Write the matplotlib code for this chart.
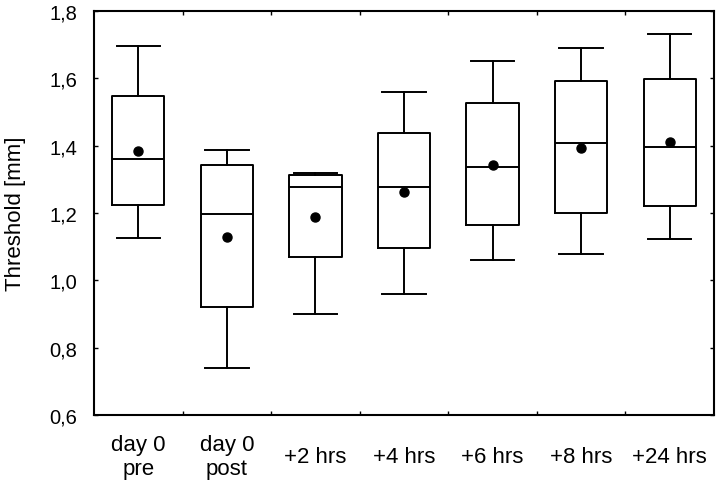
import matplotlib
matplotlib.use("Agg")
import matplotlib.pyplot as plt
from matplotlib.ticker import FixedLocator, FuncFormatter

plt.rcParams['font.family'] = ['Liberation Sans', 'DejaVu Sans']

categories = ["day 0\npre", "day 0\npost", "+2 hrs", "+4 hrs", "+6 hrs", "+8 hrs", "+24 hrs"]
whisker_low = [1.127, 0.739, 0.899, 0.959, 1.060, 1.079, 1.122]
q1 = [1.224, 0.921, 1.070, 1.095, 1.165, 1.201, 1.222]
median = [1.359, 1.198, 1.277, 1.278, 1.337, 1.408, 1.396]
q3 = [1.548, 1.343, 1.313, 1.438, 1.528, 1.593, 1.597]
whisker_high = [1.697, 1.386, 1.319, 1.559, 1.651, 1.691, 1.733]
mean = [1.385, 1.128, 1.188, 1.263, 1.344, 1.394, 1.410]
yticks = [0.6, 0.8, 1.0, 1.2, 1.4, 1.6, 1.8]

fig = plt.figure(figsize=(7.2, 4.85), dpi=100)
ax = fig.add_axes([0.1306, 0.1423, 0.8611, 0.833])

stats = []
for i in range(len(categories)):
    stats.append(dict(med=median[i], q1=q1[i], q3=q3[i],
                      whislo=whisker_low[i], whishi=whisker_high[i],
                      mean=mean[i], fliers=[], label=categories[i]))

positions = list(range(1, len(categories) + 1))
lw = 1.4
ax.bxp(stats, positions=positions, widths=0.59, capwidths=0.49,
       showmeans=False, showfliers=False, patch_artist=False,
       boxprops=dict(color='black', linewidth=lw),
       medianprops=dict(color='black', linewidth=lw),
       whiskerprops=dict(color='black', linewidth=lw),
       capprops=dict(color='black', linewidth=lw))
ax.plot(positions, mean, 'o', color='black', markersize=6.5, zorder=5)

ax.set_xlim(0.5, len(categories) + 0.5)
ax.set_ylim(0.6, 1.8)

ax.set_xticks(positions)
ax.set_xticklabels(categories, fontsize=16, linespacing=1.2)
for lab in ax.get_xticklabels():
    lab.set_verticalalignment('center')
ax.tick_params(axis='x', which='major', length=0, pad=30)
ax.xaxis.set_minor_locator(FixedLocator([p + 0.5 for p in positions[:-1]]))
ax.tick_params(axis='x', which='minor', direction='in', length=3, top=True, bottom=True, width=1)

ax.set_yticks(yticks)
ax.yaxis.set_major_formatter(FuncFormatter(lambda v, p: f"{v:.1f}".replace('.', ',')))
ax.tick_params(axis='y', which='major', direction='in', length=3, left=True, right=True,
               labelsize=14.5, pad=12, width=1)

for s in ax.spines.values():
    s.set_linewidth(1.5)

ax.set_ylabel("Threshold [mm]", fontsize=16, va='center')
ax.yaxis.set_label_coords(-0.127, 0.5)

fig.savefig("out.png", dpi=100)
